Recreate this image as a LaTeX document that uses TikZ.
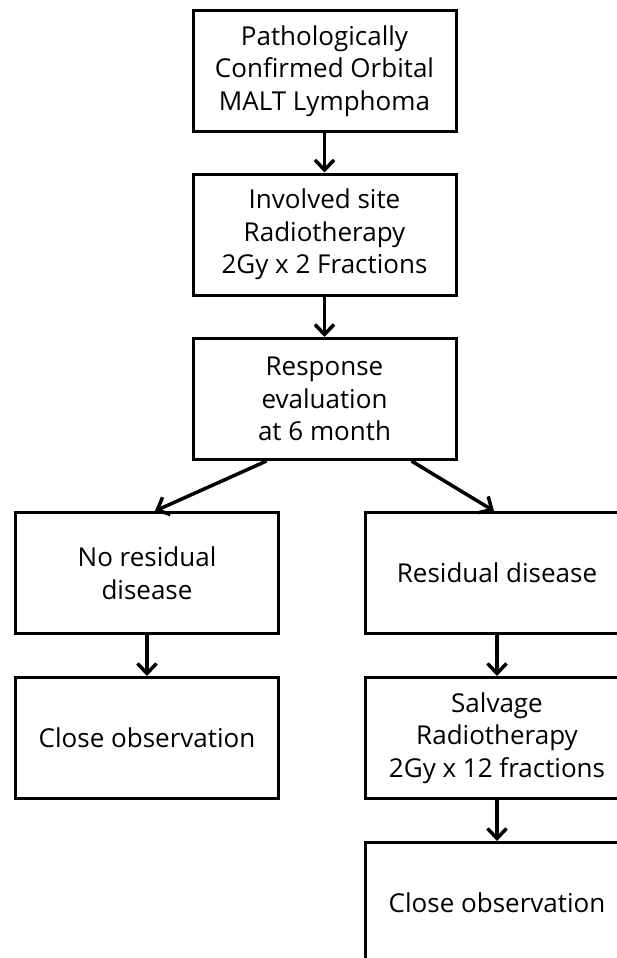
\documentclass[tikz,border=0pt]{standalone}
\usepackage{fontspec}
\setmainfont{Open Sans}
\usetikzlibrary{arrows.meta,positioning,calc}

\begin{document}
\begin{tikzpicture}[x=1pt,y=-1pt,
  flowbox/.style={draw, line width=3pt, minimum width=263pt, minimum height=121pt,
    align=center, inner sep=0pt, font=\fontsize{26}{32.5}\selectfont},
  flowarrow/.style={line width=3.5pt, -{Straight Barb[length=10pt,width=19pt]}}]
\useasboundingbox (0,0) rectangle (617,958);
\clip (0,0) rectangle (617,958);

% main column
\node[flowbox] (patho) at (324.5,71) {Pathologically\\Confirmed Orbital\\MALT Lymphoma};
\node[flowbox] (involved) at (324.5,234.5) {Involved site\\Radiotherapy\\2Gy x 2 Fractions};
\node[flowbox] (response) at (324.5,399) {Response\\evaluation\\at 6 month};

% left branch
\node[flowbox] (nores) at (147,573) {No residual\\disease};
\node[flowbox] (closeL) at (147,738) {Close observation};

% right branch
\node[flowbox] (resid) at (497,573) {Residual disease};
\node[flowbox] (salvage) at (497,738) {Salvage\\Radiotherapy\\2Gy x 12 fractions};
\node[flowbox] (closeR) at (497,903) {Close observation};

% arrows
\draw[flowarrow] (patho) -- (involved);
\draw[flowarrow] (involved) -- (response);
\draw[flowarrow] ([xshift=75pt]response.south west) -- ([xshift=8pt]nores.north);
\draw[flowarrow] ([xshift=-46pt]response.south east) -- ([xshift=-3pt]resid.north);
\draw[flowarrow] (nores) -- (closeL);
\draw[flowarrow] (resid) -- (salvage);
\draw[flowarrow] (salvage) -- (closeR);
\end{tikzpicture}
\end{document}
